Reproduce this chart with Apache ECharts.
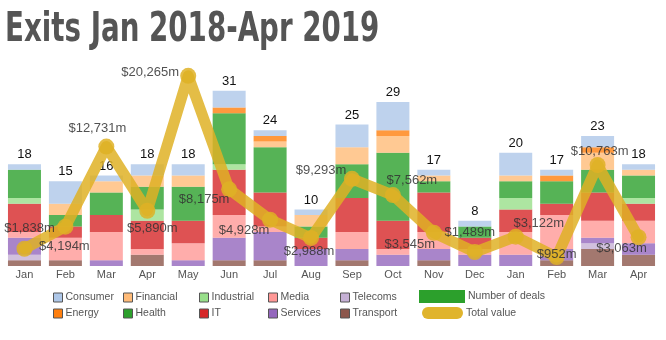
<!DOCTYPE html>
<html><head><meta charset="utf-8">
<script src="https://cdn.jsdelivr.net/npm/echarts@6/dist/echarts.min.js"></script>
<style>html,body{margin:0;padding:0;background:#fff}#c{width:666px;height:340px}</style>
</head><body><div id="c"></div>
<script>
const titleText = 'Exits Jan 2018-Apr 2019';
const months = ['Jan','Feb','Mar','Apr','May','Jun','Jul','Aug','Sep','Oct','Nov','Dec','Jan','Feb','Mar','Apr'];
// deals per sector (stack order bottom -> top: Transport ... Consumer)
const transport  = [1,1,0,2,0,1,1,0,1,0,1,0,0,1,3,2];
const telecoms   = [1,0,0,0,0,0,0,0,0,0,0,0,0,0,1,0];
const services   = [3,0,1,0,1,4,5,3,2,2,2,2,2,2,1,2];
const media      = [1,4,5,1,3,4,1,0,3,1,3,1,4,6,3,4];
const it         = [5,2,3,5,4,8,6,2,6,5,7,2,4,2,5,3];
const industrial = [1,0,0,2,0,1,0,0,0,0,0,0,2,0,0,1];
const health     = [5,2,4,4,6,9,8,2,6,12,2,2,3,4,4,4];
const financial  = [0,2,2,2,2,0,1,2,3,3,1,0,1,0,3,1];
const energy     = [0,0,0,0,0,1,1,0,0,1,0,0,0,1,1,0];
const consumer   = [1,4,1,2,2,3,1,1,4,5,1,1,4,1,2,1];
const numberOfDeals = [18,15,16,18,18,31,24,10,25,29,17,8,20,17,23,18];
const totalValue = [1838,4194,12731,5890,20265,8175,4928,2988,9293,7562,3545,1489,3122,952,10763,3063];

// label offsets for the value labels (pixels, relative to the point)
const valueLabelOffsets = [[5,-20],[-1,20],[-9,-18],[5,18],[-38,-3],[-25,10],[-26,11],[-2,13],[-31,-8],[19,-15],[-24,12],[-5,-20],[23,-13],[0,-3],[2,-14],[-17,11]];

const sectors = [
  {name:'Transport', data:transport, color:'#8c564b'},
  {name:'Telecoms', data:telecoms, color:'#c5b0d5'},
  {name:'Services', data:services, color:'#9467bd'},
  {name:'Media', data:media, color:'#ff9896'},
  {name:'IT', data:it, color:'#d62728'},
  {name:'Industrial', data:industrial, color:'#98df8a'},
  {name:'Health', data:health, color:'#2ca02c'},
  {name:'Financial', data:financial, color:'#ffbb78'},
  {name:'Energy', data:energy, color:'#ff7f0e'},
  {name:'Consumer', data:consumer, color:'#aec7e8'}
];
const lineColor = '#dfb126';
const fmt = v => '$' + String(v).replace(/\B(?=(\d{3})+(?!\d))/g, ',') + 'm';

const series = sectors.map(s => ({
  name: s.name, type:'bar', stack:'deals', barWidth:33,
  data: s.data, itemStyle:{color:s.color, opacity:0.8}, z:2
}));
series.push({
  name:'Number of deals', type:'bar', barWidth:33, barGap:'-100%',
  data:numberOfDeals, itemStyle:{color:'rgba(0,0,0,0)'}, z:1,
  label:{show:true, position:'top', distance:3, fontSize:13, color:'#111', fontFamily:'Liberation Sans, Arial'}
});
series.push({
  name:'Total value', type:'line', yAxisIndex:1, z:5,
  data: totalValue.map((v,i)=>({value:v, label:{offset:valueLabelOffsets[i]}})),
  symbol:'circle', symbolSize:16,
  lineStyle:{width:11, color:lineColor, opacity:0.85, cap:'round', join:'round'},
  itemStyle:{color:lineColor, opacity:0.85},
  label:{show:true, position:'inside', formatter:p=>fmt(p.value), fontSize:13, color:'#333', fontFamily:'Liberation Sans, Arial'}
});

function colLegend(left, names){
  return {left:left, top:292, orient:'vertical', itemWidth:9, itemHeight:9, itemGap:5, padding:0,
    icon:'rect', data:names, selectedMode:false,
    itemStyle:{borderColor:'#555', borderWidth:1, opacity:1},
    textStyle:{fontSize:10.5, color:'#555', fontFamily:'Liberation Sans, Arial', padding:[0,0,0,-2]}};
}

const chart = echarts.init(document.getElementById('c'), null, {renderer:'canvas'});
chart.setOption({
  animation:false,
  graphic:[{type:'text', x:5, y:11, scaleX:0.77, scaleY:1, z:10,
    style:{text:titleText, x:0, y:0, textVerticalAlign:'top',
      font:'bold 40px "DejaVu Sans Condensed", "DejaVu Sans", sans-serif', fill:'#555'}}],
  grid:{left:4, right:7, top:68, bottom:74},
  xAxis:{type:'category', data:months, axisLine:{show:false}, axisTick:{show:false},
    axisLabel:{fontSize:11, color:'#555', margin:3, fontFamily:'Liberation Sans, Arial'}},
  yAxis:[{type:'value', min:0, max:35, show:false, splitLine:{show:false}},
         {type:'value', min:0, max:21100, show:false, splitLine:{show:false}}],
  legend:[
    colLegend(53, ['Consumer','Energy']),
    colLegend(123, ['Financial','Health']),
    colLegend(199, ['Industrial','IT']),
    colLegend(268, ['Media','Services']),
    colLegend(340, ['Telecoms','Transport']),
    {left:419, top:290, itemWidth:46, itemHeight:13, padding:0, selectedMode:false,
     data:[{name:'Number of deals', icon:'rect', itemStyle:{color:'#2ca02c', opacity:1}}],
     textStyle:{fontSize:10.5, color:'#555', fontFamily:'Liberation Sans, Arial', padding:[0,0,0,-2]}},
    {left:422, top:307, itemWidth:41, itemHeight:12, padding:0, selectedMode:false,
     data:[{name:'Total value', icon:'path://M6,0H35A6,6 0 0 1 35,12H6A6,6 0 0 1 6,0Z', itemStyle:{color:'#e0b42c', opacity:1}}],
     textStyle:{fontSize:10.5, color:'#555', fontFamily:'Liberation Sans, Arial', padding:[0,0,0,-2]}}
  ],
  series: series
});
</script></body></html>
